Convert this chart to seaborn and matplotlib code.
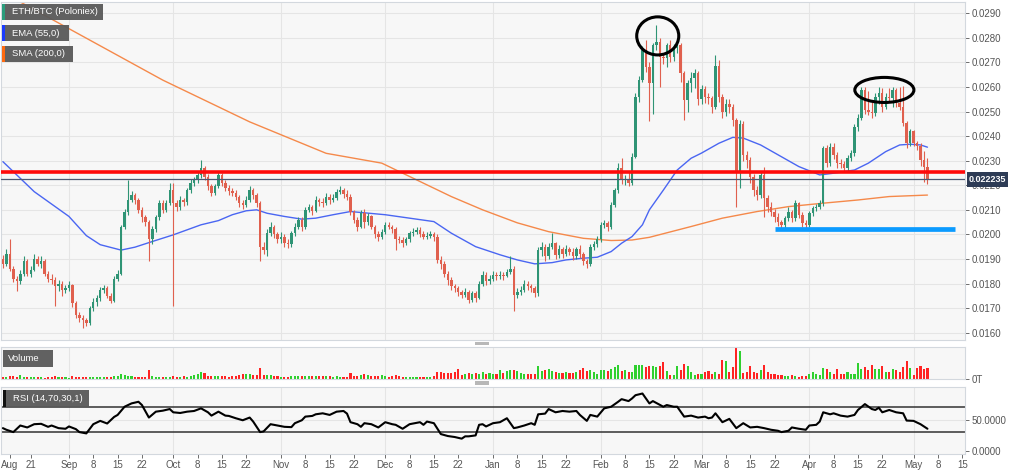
"""
ETH/BTC (Poloniex) daily candles with EMA / SMA, volume and RSI panels
"""

import numpy as np
import pandas as pd
import matplotlib
matplotlib.use("Agg")
import matplotlib.pyplot as plt
from matplotlib.patches import Rectangle, Ellipse
import seaborn as sns

START = "2019-08-13"
SCALE = 1e-4   # all prices below are in units of 0.0001 BTC

first_open = 190
closes = [
    188, 192, 186, 182, 181, 184, 189, 184, 185.5, 190,
    188, 189, 184, 182, 181.5, 179, 180, 177.5, 178, 179.5,
    172, 167, 166, 165, 164, 170, 172.5, 174, 177.4, 178,
    175, 173, 182, 184, 203, 209, 214, 216, 214, 210,
    207, 205, 198, 202, 207, 212.7, 210, 212.7, 218, 212.7,
    211, 214, 213, 218, 221, 222, 224, 227, 223.5, 219.5,
    217, 219.5, 224, 221, 219, 217.5, 217, 215.4, 212.7, 212,
    214, 218, 216, 212.7, 195, 193.7, 200.5, 203, 200, 198,
    199, 196.4, 196, 200.5, 203, 206, 203, 210, 211, 209.5,
    214, 213, 212.7, 215.4, 213.8, 215, 217.4, 218, 216.5, 215.4,
    209, 206, 203.2, 208.6, 205, 207.3, 203.2, 200, 199, 201,
    203.9, 203, 202, 198, 197.8, 196.4, 198, 200.5, 201, 201.8,
    200, 199, 199.5, 200, 199, 189.6, 188, 184, 181.5, 179,
    178, 176.7, 175.4, 176.7, 173.3, 176, 174, 180, 183.5, 181,
    182, 183.5, 183, 183.5, 183, 184.8, 186, 175.4, 176.7, 177.4,
    180, 179, 178, 176, 193.7, 195, 191, 195, 196.4, 191.7,
    194, 192, 194, 193, 191, 194, 192, 189, 188, 195,
    196, 198, 203.9, 204.5, 203, 212, 218, 227, 222, 222.5,
    221, 231.7, 256, 263, 275, 268, 261.5, 277, 278.5, 272.4,
    271.7, 277, 272.4, 275.8, 277, 265.6, 254.7, 261.5, 263.5, 265.6,
    255, 259, 256, 255.4, 252, 268.5, 256, 250, 253, 252,
    246.6, 225, 245, 232.3, 230.3, 223.5, 218, 216, 224, 215,
    211, 209.3, 207, 205.2, 203.8, 206.5, 209.3, 206.5, 212.6, 208,
    204.5, 203.8, 208.6, 210.6, 211.3, 212.6, 235, 229, 235.7, 232.3,
    229, 228.5, 227, 231, 233, 243.9, 247.3, 258.8, 250.6, 250,
    249.3, 256, 257.4, 252, 256, 255.4, 258.8, 253.4, 252, 245.2,
    237, 242, 237, 236, 230.3, 227.6, 222.35,
]
highs = [
    191.5, 194, 198, 187, 183, 185.5, 191, 190, 187, 192,
    191, 191, 190, 185, 184, 182.5, 181.5, 181, 179.5, 181,
    180, 173, 168.5, 167, 166, 171, 174, 175.5, 178.5, 179.5,
    179, 176, 183, 185.5, 204, 210.5, 222, 217.5, 217, 215,
    211, 208, 206, 203.5, 208, 214, 214, 214, 221, 221,
    214, 215.5, 215, 219, 222.5, 223.5, 225.5, 230.3, 228, 224.5,
    220.5, 220.5, 226, 225, 222, 220, 219, 218, 216, 214,
    215.5, 219.5, 219, 217, 213.5, 197, 202, 205, 204, 201,
    201, 200, 198, 201.5, 204.5, 207, 207, 211, 212.5, 212,
    215.5, 215, 215, 217, 216.5, 216.5, 218.5, 219.5, 219, 218,
    216.5, 210, 207, 210, 210.5, 208.5, 208, 204, 201.5, 202,
    205, 205, 204, 203, 199.5, 199, 199, 201.5, 202.5, 203,
    203, 201.5, 201, 201.5, 201, 200, 191, 189, 185, 182.5,
    180, 179, 177.5, 178, 177.5, 177, 177, 181, 185, 184.5,
    183.5, 185, 184.5, 185, 184.5, 186, 191, 187, 178, 179,
    181.5, 181, 180, 179, 195, 197, 196, 196.5, 200.5, 197,
    195.5, 195, 195.5, 195, 194.5, 195, 195.5, 193, 190, 196,
    197.5, 199.5, 205, 206, 205.5, 213, 219, 229, 231, 224,
    226, 233, 257.5, 264.5, 276.5, 279, 270, 278, 285.3, 280,
    274, 278, 279, 277.5, 279, 278, 266.5, 263, 266, 267.5,
    266.5, 261, 260.5, 257.5, 256.5, 273, 271, 257, 255, 255,
    253, 247.5, 246.5, 246, 234, 231.5, 224.5, 219.5, 225.5, 227.6,
    216, 213, 210.5, 208.5, 206, 207.5, 211, 210, 214, 213,
    209, 206, 209.5, 211.5, 212.5, 214, 236, 236.5, 237, 237,
    233.5, 230.5, 230, 232.5, 234.5, 245, 249, 260, 260, 258.5,
    254, 257.5, 260, 259.5, 257.5, 259.5, 260, 259.5, 260, 260.5,
    246, 243, 242.5, 238, 237, 234, 231,
]
lows = [
    186.5, 187, 185, 180.5, 177, 180, 183, 183, 182.5, 185,
    187, 186.5, 183, 180.5, 180, 171, 177, 175, 176, 177,
    170.5, 166, 164.5, 162, 162.5, 163, 169, 171, 173, 176,
    174, 172, 172.5, 181, 183.5, 202, 208, 213, 212.5, 208.5,
    205, 203.5, 189, 196, 201, 206, 208.5, 209, 212, 171,
    209.5, 210, 211.5, 212, 217, 219.5, 221, 223, 222, 218,
    215.5, 216, 219, 219.5, 217.5, 216, 215.5, 214, 211, 210.5,
    211, 213, 214.5, 211, 189, 192, 191, 199.5, 198.5, 196.5,
    196.5, 195, 194.5, 195, 199.5, 202, 201.5, 202, 209, 208,
    209, 211.5, 211, 212, 212.5, 213, 214, 216.5, 215, 214,
    208, 204.5, 201.5, 202.5, 202.5, 204, 202, 198.5, 197.5, 198,
    200, 202, 200.5, 193.7, 196.5, 195, 195.5, 197, 199.5, 200,
    199, 198, 198, 198.5, 197.5, 188.5, 186, 182.5, 179.5, 177.5,
    176.5, 175, 174, 174.5, 172, 172.5, 172.5, 173.5, 179, 179.5,
    180, 181, 181.5, 182, 181.5, 182.5, 184, 169, 174, 175.5,
    176.5, 177.5, 176.5, 174.5, 175, 191, 189, 190, 194, 190,
    190.5, 190.5, 191, 191.5, 189.5, 190, 190.5, 187.5, 186.5, 187,
    193.5, 195, 197, 202.5, 201.5, 202, 211, 217, 220.5, 220,
    219.5, 220, 231, 254, 262, 266, 246, 249, 275, 260,
    269.5, 268, 270, 270.5, 274, 262, 246.6, 250, 258, 259.5,
    252.5, 253, 253.5, 253, 249.5, 251, 254, 247.5, 248, 249.5,
    244, 211.3, 218.8, 230, 227, 221, 215.5, 214, 215, 207,
    209, 207.5, 205, 203.5, 202.5, 202.5, 205.5, 205, 205.5, 206.5,
    203, 202.5, 203, 207.5, 209.5, 210.5, 211.5, 227.5, 228, 230.5,
    227, 227, 225.5, 226, 230, 232, 242, 246.5, 249, 248.5,
    247.5, 248, 253, 250, 251, 254, 252, 252, 250.5, 244,
    235, 236, 236, 234.5, 228, 221.5, 220.5,
]
volumes = [
    7, 7, 8, 8, 6, 12, 6, 5, 5, 5,
    5, 5, 4, 5, 5, 9, 6, 5, 5, 4,
    8, 7, 7, 6, 6, 7, 6, 6, 7, 6,
    7, 6, 9, 10, 14, 12, 10, 9, 6, 5,
    5, 5, 27, 8, 7, 7, 6, 5, 6, 8,
    7, 7, 8, 7, 8, 12, 15, 20, 18, 9,
    9, 10, 9, 8, 8, 7, 8, 10, 13, 14,
    15, 15, 12, 13, 32, 12, 12, 11, 10, 10,
    5, 5, 6, 9, 10, 9, 9, 10, 9, 8,
    9, 10, 9, 8, 9, 7, 8, 7, 6, 7,
    18, 8, 9, 12, 16, 11, 10, 9, 8, 12,
    8, 7, 10, 12, 9, 7, 6, 6, 7, 6,
    6, 7, 6, 7, 10, 22, 20, 19, 18, 17,
    20, 30, 12, 16, 18, 15, 17, 16, 22, 16,
    17, 15, 15, 28, 18, 25, 27, 27, 25, 18,
    16, 15, 15, 14, 40, 25, 28, 30, 25, 22,
    18, 18, 20, 18, 19, 20, 28, 32, 25, 27,
    20, 15, 28, 26, 25, 30, 35, 42, 25, 28,
    20, 20, 43, 42, 42, 35, 38, 38, 35, 38,
    50, 25, 12, 12, 38, 28, 45, 38, 20, 12,
    15, 15, 20, 25, 15, 20, 15, 57, 53, 20,
    35, 93, 83, 18, 20, 38, 20, 17, 28, 43,
    22, 15, 15, 12, 12, 10, 8, 12, 8, 7,
    8, 8, 15, 20, 15, 12, 33, 30, 22, 15,
    30, 15, 15, 20, 15, 15, 48, 30, 35, 28,
    42, 30, 30, 40, 20, 22, 30, 28, 20, 35,
    55, 32, 12, 32, 38, 30, 32,
]

# EMA(55) and SMA(200) at these days
ema_days = [0, 9, 19, 24, 28, 34, 38, 43, 49, 57, 62, 66, 70, 73, 76, 81, 86, 90,
            95, 100, 110, 124, 129, 136, 143, 148, 153, 158, 162, 167, 171, 175,
            178, 181, 184, 186, 190, 194, 198, 201, 206, 210, 213, 218, 224, 229,
            235, 239, 245, 249, 254, 258, 261, 264, 266]
ema_vals = [229.6, 217.4, 207.3, 199.5, 195.8, 193.6, 194.8, 197.1, 199.8, 203.9,
            205.6, 208, 209.6, 210, 208.6, 207.3, 206.2, 206.6, 208, 209.3, 208,
            205.2, 200.5, 195, 191.7, 189.6, 188, 188.5, 189.6, 190.3, 190.7, 193,
            196.4, 199.1, 203.9, 210, 218, 226.2, 231, 233.1, 237.1, 239.5, 239.2,
            236.4, 231.6, 227.6, 224.2, 224.9, 226.2, 229, 233.7, 236.4, 236.7,
            236.4, 235.5]
sma_days = [0, 5, 46, 71, 93, 109, 119, 129, 138, 148, 157, 167, 175, 181, 186,
            198, 207, 217, 226, 236, 246, 255, 266]
sma_vals = [298, 294.6, 262.8, 245.8, 233, 229, 222.2, 215.4, 210, 204.7, 201.1,
            198.4, 197.5, 197.7, 198.8, 203.2, 206.6, 209.3, 211.3, 212.7, 214,
            215.4, 216]

# RSI(14)
rsi_days = [0, 1, 3, 5, 7, 9, 11, 13, 14, 16, 18, 19, 21, 22, 24, 26, 28, 30, 32, 33,
            35, 37, 39, 40, 42, 44, 46, 48, 49, 51, 53, 55, 57, 59, 60, 62, 64, 65,
            67, 69, 71, 72, 74, 75, 77, 79, 81, 83, 84, 86, 87, 89, 90, 92, 94, 96,
            98, 99, 100, 102, 103, 104, 106, 108, 110, 112, 113, 115, 117, 118, 120,
            121, 122, 124, 126, 128, 130, 132, 133, 134, 136, 137, 138, 139, 141,
            143, 145, 147, 148, 150, 152, 153, 154, 156, 157, 159, 161, 163, 165,
            166, 168, 169, 171, 173, 175, 177, 178, 180, 181, 182, 184, 186, 187,
            190, 191, 193, 194, 196, 198, 200, 202, 203, 204, 205, 207, 209, 211,
            213, 215, 217, 219, 221, 223, 224, 226, 227, 229, 231, 232, 234, 235,
            236, 238, 239, 241, 243, 245, 246, 248, 250, 251, 252, 253, 255, 257,
            259, 260, 262, 264, 266]
rsi_vals = [36.3, 33.7, 30, 40.5, 37.4, 42.6, 43.2, 38.4, 40.5, 36.3, 35.3, 39, 34.7,
            30, 27.9, 42.6, 47.9, 43.7, 54.2, 57.4, 70.5, 75.8, 78.4, 73.2, 53.2,
            62.6, 64.2, 66.8, 61.6, 60.5, 62.6, 63.7, 67.9, 61.6, 56.3, 62.6, 56.3,
            55.8, 52.1, 48.9, 53.2, 46.8, 30, 31.1, 42.6, 40.5, 38.4, 37.9, 44.2,
            48.9, 54.7, 55.8, 58.4, 60, 57.4, 62.6, 63.7, 59.5, 45.8, 42.6, 38.4,
            44.2, 42.6, 37.4, 45.8, 42.6, 41.6, 35.3, 42.6, 43.7, 45.8, 41.6, 46.8,
            44.2, 26.8, 23.7, 22.1, 19.5, 23.2, 23.2, 24.7, 41.6, 42.6, 39, 44.2,
            45.8, 52.1, 36.3, 37.4, 40.5, 44.2, 41.6, 58.4, 59.5, 66.8, 61.6, 63.7,
            62.6, 63.7, 57.4, 47.9, 57.4, 54.7, 67.9, 70.5, 78.4, 82.6, 79.5, 83.7,
            88.9, 91.6, 75.8, 79.5, 70.5, 73.2, 70.5, 70.5, 54.7, 56.3, 53.2, 54.7,
            52.1, 53.2, 60, 45.8, 51.1, 36.3, 44.2, 37.4, 38.4, 36.3, 33.7, 32.1,
            30, 32.1, 37.4, 35.3, 33.7, 40.5, 41.6, 46.8, 61.6, 58.4, 60, 56.3,
            54.7, 57.4, 65.3, 74.7, 66.8, 65.3, 68.9, 61.6, 65.3, 61.6, 60, 48.4,
            47.9, 42.6, 35.3]

# drawn annotations
resistance = 225.4
support = 202.2
support_days = (222, 274)
circled = [(188.4, 280.8, 12.1, 15.5), (253.6, 258.8, 17.0, 10.2)]  # day, price, width, height

tick_marks = [
    ("2019-08-15", "Aug"), ("2019-08-21", "21"),
    ("2019-09-01", "Sep"), ("2019-09-08", "8"), ("2019-09-15", "15"), ("2019-09-22", "22"),
    ("2019-10-01", "Oct"), ("2019-10-08", "8"), ("2019-10-15", "15"), ("2019-10-22", "22"),
    ("2019-11-01", "Nov"), ("2019-11-08", "8"), ("2019-11-15", "15"), ("2019-11-22", "22"),
    ("2019-12-01", "Dec"), ("2019-12-08", "8"), ("2019-12-15", "15"), ("2019-12-22", "22"),
    ("2020-01-01", "Jan"), ("2020-01-08", "8"), ("2020-01-15", "15"), ("2020-01-22", "22"),
    ("2020-02-01", "Feb"), ("2020-02-08", "8"), ("2020-02-15", "15"), ("2020-02-22", "22"),
    ("2020-03-01", "Mar"), ("2020-03-08", "8"), ("2020-03-15", "15"), ("2020-03-22", "22"),
    ("2020-04-01", "Apr"), ("2020-04-08", "8"), ("2020-04-15", "15"), ("2020-04-22", "22"),
    ("2020-05-01", "May"), ("2020-05-08", "8"), ("2020-05-15", "15"),
]
month_starts = ["2019-09-01", "2019-10-01", "2019-11-01", "2019-12-01", "2020-01-01",
                "2020-02-01", "2020-03-01", "2020-04-01", "2020-05-01"]

COLORS = {
    "up": "#2f9475",
    "down": "#e0604e",
    "vol_up": "#2fd02f",
    "vol_down": "#ff2323",
    "ema": "#4a66f2",
    "sma": "#f5894a",
    "grid": "#e5e5e5",
    "panel": "#f7f7f7",
}

start = pd.Timestamp(START)


def day_of(s):
    return (pd.Timestamp(s) - start).days


c = np.array(closes) * SCALE
o = np.r_[first_open, closes[:-1]] * SCALE
h = np.array(highs) * SCALE
l = np.array(lows) * SCALE
x = np.arange(len(c))
up = c >= o

sns.set_theme(style="white")
plt.rcParams["font.family"] = ["Liberation Sans", "DejaVu Sans"]

W, H = 1024, 473
fig = plt.figure(figsize=(W / 100, H / 100), dpi=100)
fig.patch.set_facecolor("white")


def px_rect(x0, y0, x1, y1, **kw):
    fig.add_artist(Rectangle((x0 / W, 1 - y1 / H), (x1 - x0) / W, (y1 - y0) / H,
                             transform=fig.transFigure, **kw))


def tag(x0, y0, x1, y1, text, stripe=None, pad=10):
    px_rect(x0, y0, x1, y1, fc="#595959", ec="none", alpha=0.95, zorder=10)
    if stripe:
        px_rect(x0, y0, x0 + 2.5, y1, fc=stripe, ec="none", zorder=11)
    fig.text((x0 + pad) / W, 1 - (y0 + y1) / 2 / H, text, color="white",
             fontsize=6.8, ha="left", va="center", zorder=12)


def panel(y0, y1):
    a = fig.add_axes([1 / W, 1 - y1 / H, 964 / W, (y1 - y0) / H])
    a.set_facecolor(COLORS["panel"])
    for s in a.spines.values():
        s.set_color("#d3d8de")
        s.set_linewidth(0.8)
    a.yaxis.tick_right()
    a.tick_params(axis="y", labelsize=7, colors="#555555", length=3, width=0.6, pad=2)
    a.tick_params(axis="x", bottom=False, labelbottom=False)
    for m in month_starts:
        a.axvline(day_of(m), color=COLORS["grid"], lw=0.8, zorder=0)
    a.set_xlim(-0.55, 276.8)
    return a


# price panel
ax = panel(2, 340)
ax.set_ylim(157.0 * SCALE, 294.6 * SCALE)
yt = np.arange(16, 30) * 1e-3
ax.set_yticks(yt)
ax.set_yticklabels([f"{v:.4f}" for v in yt])
ax.grid(axis="y", color=COLORS["grid"], lw=0.8)
ax.set_axisbelow(True)

sns.lineplot(x=sma_days, y=np.array(sma_vals) * SCALE, ax=ax, color=COLORS["sma"], lw=1, zorder=2)
sns.lineplot(x=ema_days, y=np.array(ema_vals) * SCALE, ax=ax, color=COLORS["ema"], lw=1, zorder=2)

col = np.where(up, COLORS["up"], COLORS["down"])
ax.vlines(x, l, h, colors=col, lw=0.8, zorder=3)
ax.bar(x, np.maximum(np.abs(c - o), 0.35 * SCALE), bottom=np.minimum(o, c),
       width=0.7, color=col, lw=0, zorder=4)

ax.axhline(c[-1], color="#4b5872", lw=0.9, zorder=5)
ax.axhline(resistance * SCALE, color="#ff0a0a", lw=2.6, zorder=6)
ax.hlines(support * SCALE, *support_days, color="#0b9bff", lw=3.4, zorder=6)
for d, p, w, hh in circled:
    ax.add_patch(Ellipse((d, p * SCALE), w, hh * SCALE, fill=False, ec="black", lw=2.2, zorder=7))
ax.set_xlabel("")
ax.set_ylabel("")

# last price tag
px_rect(967, 172, 1008, 187, fc="#2d3b55", ec="none", zorder=10)
fig.text(987.5 / W, 1 - 179.5 / H, f"{c[-1]:.6f}", color="white", fontsize=6.5,
         fontweight="bold", ha="center", va="center", zorder=11)

# volume panel
axv = panel(347, 379)
axv.bar(x, volumes, width=0.6, color=np.where(up, COLORS["vol_up"], COLORS["vol_down"]), lw=0)
axv.set_ylim(0, 96)
axv.set_yticks([0])
axv.set_yticklabels(["0T"])

# RSI panel
axr = panel(387, 454)
axr.set_ylim(-5, 102)
axr.axhline(50, color=COLORS["grid"], lw=0.8, zorder=0)
axr.axhline(70, color="#333333", lw=1.1, zorder=1)
axr.axhline(30, color="#333333", lw=1.1, zorder=1)
sns.lineplot(x=rsi_days, y=rsi_vals, ax=axr, color="black", lw=1.5, zorder=3)
axr.set_yticks([0, 50])
axr.set_yticklabels(["0.0000", "50.0000"])
axr.set_xticks([day_of(d) for d, _ in tick_marks])
axr.set_xticklabels([t for _, t in tick_marks])
axr.tick_params(axis="x", bottom=True, labelbottom=True, labelsize=7, colors="#555555",
                length=3, width=0.6, pad=1)
axr.set_xlim(-0.55, 276.8)
axr.set_xlabel("")
axr.set_ylabel("")

# panel labels and separators
tag(2, 4, 103, 20, "ETH/BTC (Poloniex)", stripe="#2a9d7c")
tag(2, 25, 69, 41, "EMA (55,0)", stripe="#1a3cff")
tag(2, 46, 73, 62, "SMA (200,0)", stripe="#ff6a10")
tag(3, 350, 53, 367, "Volume", pad=5)
tag(3, 390, 89, 407, "RSI (14,70,30,1)", stripe="#111111")
px_rect(475, 342, 489, 345.5, fc="#b8b8b8", ec="none", zorder=10)
px_rect(475, 381, 489, 384.5, fc="#b8b8b8", ec="none", zorder=10)

fig.savefig("out.png", dpi=100)
plt.close(fig)
